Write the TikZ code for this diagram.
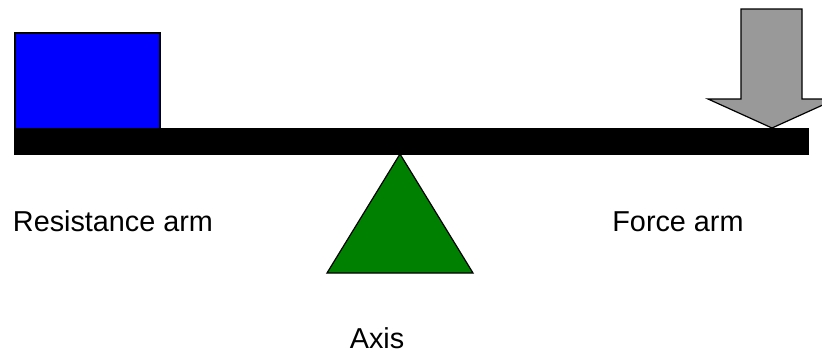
\documentclass[tikz,border=0pt]{standalone}
\usepackage{fontspec}
\setmainfont{Liberation Sans}
\usepackage{xcolor}
\usetikzlibrary{positioning,calc}
\definecolor{blockblue}{HTML}{0000FF}
\definecolor{pivotgreen}{HTML}{008000}
\definecolor{forcegray}{HTML}{999999}

\begin{document}
\begin{tikzpicture}[
    x=0.75pt, y=-0.75pt,
    every node/.style={font=\fontsize{21.6}{26}\selectfont, inner sep=0pt},
    lbl/.style={anchor=base},
    shapeline/.style={draw=black, line width=0.9pt, line join=miter},
    blockbox/.style={shapeline, fill=#1}
]
    \useasboundingbox (0,0) rectangle (822,354);
    \clip (0,0) rectangle (822,354);

    % Resistance block
    \draw[blockbox=blockblue] (15,33) rectangle (160,129);

    % Lever beam
    \draw[blockbox=black] (15,129) rectangle (808,154);

    % Fulcrum
    \draw[blockbox=pivotgreen] (400,154) -- (473,273) -- (327,273) -- cycle;

    % Applied force
    \draw[blockbox=forcegray] (741,9) -- (802,9) -- (802,99) -- (836,99)
        -- (772,128) -- (708,99) -- (741,99) -- cycle;

    % Labels
    \node[lbl] (resarm) at (113,231) {Resistance arm};
    \node[lbl] (forcearm) at (678,231) {Force arm};
    \node[lbl] (axis) at (377,348) {Axis};
\end{tikzpicture}
\end{document}
